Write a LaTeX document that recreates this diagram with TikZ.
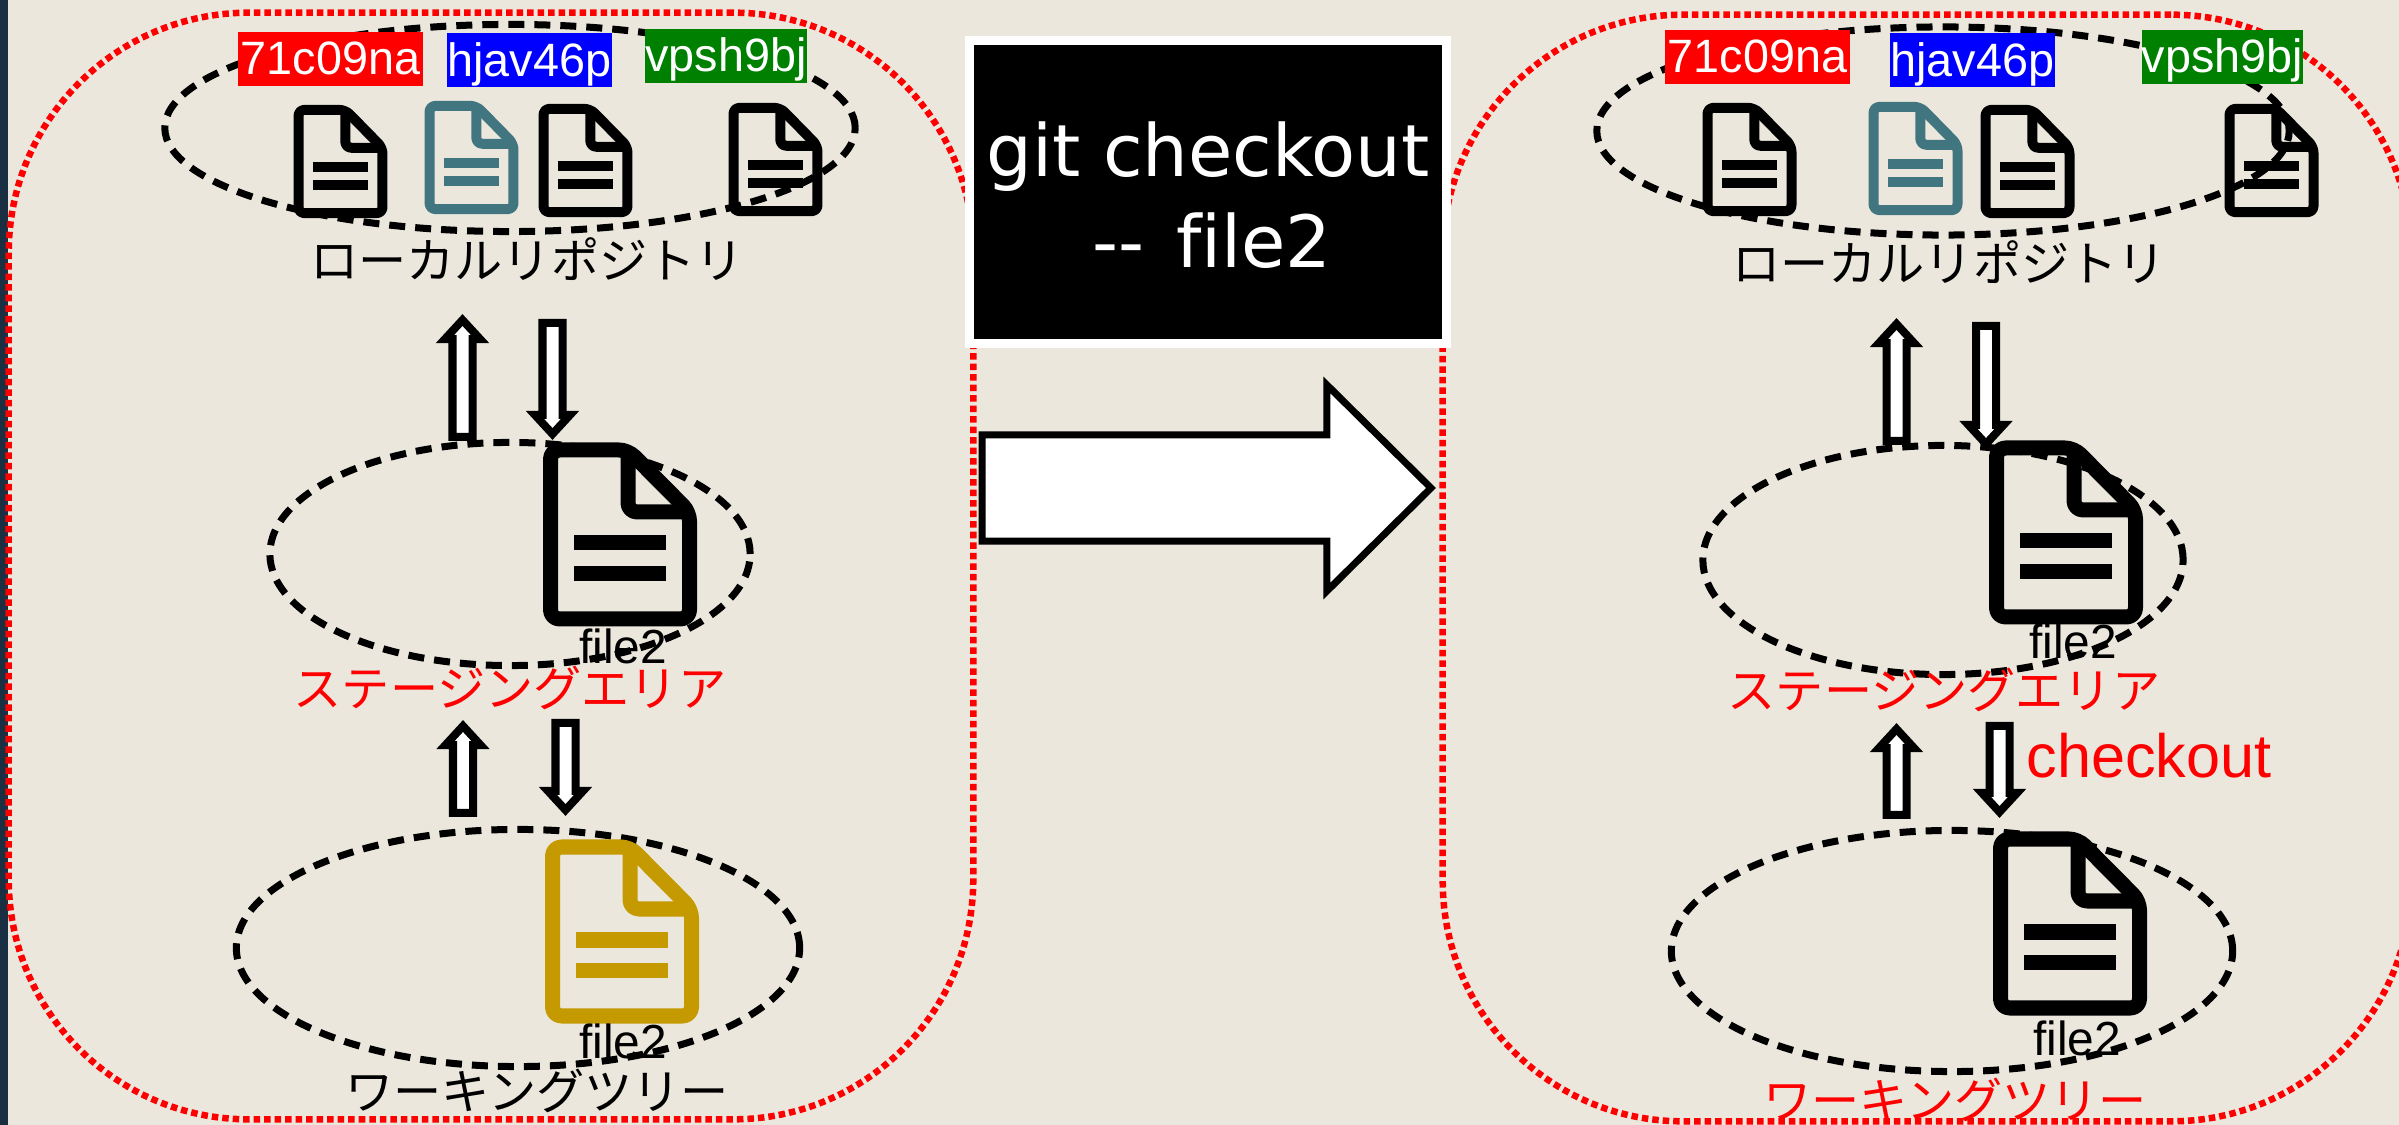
\documentclass[tikz,border=0pt]{standalone}
\usepackage{fontspec}
\setmainfont[Ligatures=NoCommon]{Liberation Sans}
\newfontfamily\jpfont{Noto Sans CJK JP}
\newfontfamily\boxfont[Ligatures=NoCommon]{DejaVu Sans}
\usetikzlibrary{calc,shapes.geometric}
\definecolor{paper}{HTML}{EBE7DD}
\definecolor{strip}{HTML}{1B2F42}
\definecolor{fileteal}{HTML}{41757F}
\definecolor{filegold}{HTML}{C49A00}
\definecolor{taggreen}{HTML}{008000}
\tikzset{
  frame/.style={shape=rectangle, draw=red, line width=.065cm, rounded corners=2.4cm,
    dash pattern=on .065cm off .04cm, inner sep=0pt, minimum height=11.06cm},
  area/.style={shape=ellipse, draw=black, line width=.07cm, inner sep=0pt,
    dash pattern=on .16cm off .10cm},
  smallfile/.style={line width=.10cm, xscale=.604, yscale=.611, rounded corners=.06cm},
  bigfile/.style={line width=.15cm, rounded corners=.09cm},
  fileicon/.pic={
    \draw[line join=round] (7.5,8) -- (85,8) -- (146.5,70) -- (146.5,177) -- (7.5,177) -- cycle;
    \draw[line join=round] (85,8) -- (85,70) -- (146.5,70);
    \draw[rounded corners=0pt] (31,101) -- (123,101);
    \draw[rounded corners=0pt] (31,131.5) -- (123,131.5);
  },
  tag/.style={inner sep=0pt, text=white, minimum width=#1, text height=.43cm, text depth=.11cm,
    font=\fontsize{13.3pt}{16pt}\selectfont},
  jplabel/.style={inner sep=0pt, font=\jpfont\fontsize{13.7pt}{16pt}\selectfont},
  filename/.style={inner sep=0pt, font=\fontsize{13.6pt}{16pt}\selectfont},
  blockarrow/.style n args={3}{draw=black, fill=white, line width=.08cm,
    to path={
      -- ($(\tikztostart)!#1!90:(\tikztotarget)$)
      -- ($(\tikztotarget)!#3!(\tikztostart)!#1!90:(\tikztotarget)$)
      -- ($(\tikztotarget)!#3!(\tikztostart)!#2!90:(\tikztotarget)$)
      -- (\tikztotarget)
      -- ($(\tikztotarget)!#3!(\tikztostart)!#2!-90:(\tikztotarget)$)
      -- ($(\tikztotarget)!#3!(\tikztostart)!#1!-90:(\tikztotarget)$)
      -- ($(\tikztostart)!#1!-90:(\tikztotarget)$)
      -- cycle
    }},
  layerarrow/.style={blockarrow={.10cm}{.175cm}{.19cm}},
}

\begin{document}
\begin{tikzpicture}[x=.01cm, y=-.01cm]
  \useasboundingbox (0,0) rectangle (2399,1125);
  \clip (0,0) rectangle (2399,1125);
  \fill[paper] (0,0) rectangle (2399,1125);
  \fill[strip] (0,0) rectangle (8,1125);

  \node[frame, minimum width=9.64cm] (frameL) at (491,566) {};
  \node[frame, minimum width=9.68cm] (frameR) at (1927,568) {};

  \node[area, minimum width=6.90cm, minimum height=2.07cm] (repoL) at (510,128) {};
  \node[area, minimum width=4.80cm, minimum height=2.23cm] (stageL) at (510,554) {};
  \node[area, minimum width=5.63cm, minimum height=2.37cm] (workL) at (518,948) {};
  \node[area, minimum width=6.92cm, minimum height=2.08cm] (repoR) at (1943,131) {};
  \node[area, minimum width=4.80cm, minimum height=2.29cm] (stageR) at (1943,560) {};
  \node[area, minimum width=5.61cm, minimum height=2.41cm] (workR) at (1952,951) {};

  \pic[smallfile] at (294,105) {fileicon};
  \pic[smallfile, color=fileteal] at (425,101) {fileicon};
  \pic[smallfile] at (539,104) {fileicon};
  \pic[smallfile] at (729,103) {fileicon};
  \pic[smallfile] at (1703,103) {fileicon};
  \pic[smallfile, color=fileteal] at (1869,102) {fileicon};
  \pic[smallfile] at (1981,105) {fileicon};
  \pic[smallfile] at (2225,104) {fileicon};
  \pic[bigfile] at (543,442) {fileicon};
  \pic[bigfile, color=filegold] at (545,839) {fileicon};
  \pic[bigfile] at (1989,440) {fileicon};
  \pic[bigfile] at (1993,831) {fileicon};

  \node[tag=1.85cm, fill=red] (tagRedL) at (330.5,59) {71c09na};
  \node[tag=1.65cm, fill=blue] (tagBlueL) at (529.5,60) {hjav46p};
  \node[tag=1.60cm, fill=taggreen] (tagGreenL) at (726,56) {vpsh9bj};
  \node[tag=1.85cm, fill=red] (tagRedR) at (1757.5,57) {71c09na};
  \node[tag=1.65cm, fill=blue] (tagBlueR) at (1972.5,60) {hjav46p};
  \node[tag=1.61cm, fill=taggreen] (tagGreenR) at (2222.5,57) {vpsh9bj};

  \node[jplabel] (nameRepoL) at (527,259) {ローカルリポジトリ};
  \node[jplabel, text=red] (nameStageL) at (510,688) {ステージングエリア};
  \node[jplabel] (nameWorkL) at (537,1091) {ワーキングツリー};
  \node[jplabel] (nameRepoR) at (1949,262) {ローカルリポジトリ};
  \node[jplabel, text=red] (nameStageR) at (1944,690) {ステージングエリア};
  \node[jplabel, text=red] (nameWorkR) at (1955,1100) {ワーキングツリー};

  \node[filename] (fileStageL) at (623,646) {file2};
  \node[filename] (fileWorkL) at (623,1041) {file2};
  \node[filename] (fileStageR) at (2073,641) {file2};
  \node[filename] (fileWorkR) at (2077,1038) {file2};
  \node[inner sep=0pt, text=red, font=\fontsize{17.4pt}{20pt}\selectfont] (checkoutR) at (2149,756) {checkout};

  \coordinate (upA) at (462.5,437);
  \coordinate (upB) at (462.5,320);
  \coordinate (downA) at (552.5,323);
  \coordinate (downB) at (552.5,434);
  \coordinate (upC) at (463,813);
  \coordinate (upD) at (463,726);
  \coordinate (downC) at (565.5,723);
  \coordinate (downD) at (565.5,810);
  \coordinate (upE) at (1896.5,441);
  \coordinate (upF) at (1896.5,324);
  \coordinate (downE) at (1986,326);
  \coordinate (downF) at (1986,444);
  \coordinate (upG) at (1896.5,815);
  \coordinate (upH) at (1896.5,729);
  \coordinate (downG) at (1999.5,726);
  \coordinate (downH) at (1999.5,812);
  \draw[layerarrow] (upA) to (upB);
  \draw[layerarrow] (downA) to (downB);
  \draw[layerarrow] (upC) to (upD);
  \draw[layerarrow] (downC) to (downD);
  \draw[layerarrow] (upE) to (upF);
  \draw[layerarrow] (downE) to (downF);
  \draw[layerarrow] (upG) to (upH);
  \draw[layerarrow] (downG) to (downH);

  \node[draw=white, fill=black, text=white, line width=.09cm, inner sep=0pt, align=center,
    minimum width=4.77cm, minimum height=3.035cm,
    font=\boxfont\fontsize{20.5pt}{25.9pt}\selectfont] (command) at (1208,192)
    {\rule{0pt}{17.3pt}git checkout\\\kern.08cm-- \kern.09cm file2};

  \coordinate (bigA) at (982,488);
  \coordinate (bigB) at (1431,488);
  \draw[blockarrow={.53cm}{1.03cm}{1.04cm}, line width=.07cm] (bigA) to (bigB);
\end{tikzpicture}
\end{document}
